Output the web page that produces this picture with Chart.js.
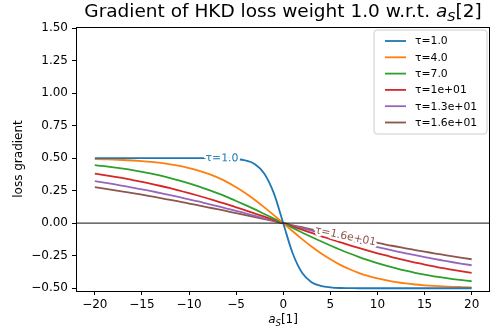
<!DOCTYPE html>
<html>
<head>
<meta charset="utf-8">
<script src="https://cdn.jsdelivr.net/npm/chart.js@4.4.1/dist/chart.umd.min.js"></script>
<style>
  html, body { margin: 0; padding: 0; background: #fff; }
  #wrap { width: 490px; height: 333px; }
</style>
</head>
<body>
<div id="wrap"><canvas id="c" width="490" height="333"></canvas></div>
<script>
// ---- data ----
const xValues = [-20,-19,-18,-17,-16,-15,-14,-13,-12,-11,-10,-9,-8,-7,-6,-5,-4,-3,-2,-1,0,1,2,3,4,5,6,7,8,9,10,11,12,13,14,15,16,17,18,19,20];

const tau1 = [0.500,0.500,0.500,0.500,0.500,0.500,0.500,0.500,0.500,0.500,0.500,0.500,0.500,0.499,0.498,0.493,0.482,0.453,0.381,0.231,0.000,
  -0.231,-0.381,-0.453,-0.482,-0.493,-0.498,-0.499,-0.500,-0.500,-0.500,-0.500,-0.500,-0.500,-0.500,-0.500,-0.500,-0.500,-0.500,-0.500,-0.500];

const tau4 = [0.493,0.491,0.489,0.486,0.482,0.477,0.471,0.463,0.453,0.440,0.424,0.405,0.381,0.352,0.318,0.277,0.231,0.179,0.122,0.062,0.000,
  -0.062,-0.122,-0.179,-0.231,-0.277,-0.318,-0.352,-0.381,-0.405,-0.424,-0.440,-0.453,-0.463,-0.471,-0.477,-0.482,-0.486,-0.489,-0.491,-0.493];

const tau7 = [0.446,0.438,0.429,0.419,0.408,0.395,0.381,0.365,0.347,0.328,0.307,0.283,0.258,0.231,0.202,0.171,0.139,0.106,0.071,0.036,0.000,
  -0.036,-0.071,-0.106,-0.139,-0.171,-0.202,-0.231,-0.258,-0.283,-0.307,-0.328,-0.347,-0.365,-0.381,-0.395,-0.408,-0.419,-0.429,-0.438,-0.446];

const tau10 = [0.381,0.370,0.358,0.346,0.332,0.318,0.302,0.286,0.269,0.250,0.231,0.211,0.190,0.168,0.146,0.122,0.099,0.074,0.050,0.025,0.000,
  -0.025,-0.050,-0.074,-0.099,-0.122,-0.146,-0.168,-0.190,-0.211,-0.231,-0.250,-0.269,-0.286,-0.302,-0.318,-0.332,-0.346,-0.358,-0.370,-0.381];

const tau13 = [0.323,0.312,0.300,0.287,0.274,0.260,0.246,0.231,0.216,0.200,0.183,0.167,0.149,0.132,0.113,0.095,0.076,0.057,0.038,0.019,0.000,
  -0.019,-0.038,-0.057,-0.076,-0.095,-0.113,-0.132,-0.149,-0.167,-0.183,-0.200,-0.216,-0.231,-0.246,-0.260,-0.274,-0.287,-0.300,-0.312,-0.323];

const tau16 = [0.277,0.266,0.255,0.243,0.231,0.219,0.206,0.193,0.179,0.166,0.151,0.137,0.122,0.108,0.093,0.078,0.062,0.047,0.031,0.016,0.000,
  -0.016,-0.031,-0.047,-0.062,-0.078,-0.093,-0.108,-0.122,-0.137,-0.151,-0.166,-0.179,-0.193,-0.206,-0.219,-0.231,-0.243,-0.255,-0.266,-0.277];

const seriesLabels = ['τ=1.0','τ=4.0','τ=7.0','τ=1e+01','τ=1.3e+01','τ=1.6e+01'];
const seriesValues = [tau1, tau4, tau7, tau10, tau13, tau16];
const xTicks = [-20,-15,-10,-5,0,5,10,15,20];
const yTicks = [-0.5,-0.25,0,0.25,0.5,0.75,1.0,1.25,1.5];

// ---- styling ----
const colors = ['#1f77b4','#ff7f0e','#2ca02c','#d62728','#9467bd','#8c564b'];
const FONT = '"DejaVu Sans", sans-serif';

const datasets = seriesValues.map((arr, k) => ({
  label: seriesLabels[k],
  data: xValues.map((x, i) => ({ x: x, y: arr[i] })),
  borderColor: colors[k],
  backgroundColor: colors[k],
  borderWidth: 1.8,
  pointRadius: 0,
  fill: false,
  cubicInterpolationMode: 'monotone'
}));

function interpY(arr, x) {
  for (let i = 0; i < xValues.length - 1; i++) {
    if (x >= xValues[i] && x <= xValues[i + 1]) {
      const t = (x - xValues[i]) / (xValues[i + 1] - xValues[i]);
      return arr[i] + t * (arr[i + 1] - arr[i]);
    }
  }
  return arr[arr.length - 1];
}

const decorPlugin = {
  id: 'decor',
  afterDatasetsDraw(chart) {
    const ctx = chart.ctx, a = chart.chartArea;
    const xs = chart.scales.x, ys = chart.scales.y;
    // zero line
    ctx.save();
    ctx.strokeStyle = 'rgba(0,0,0,0.75)';
    ctx.lineWidth = 1.2;
    const y0 = ys.getPixelForValue(0);
    ctx.beginPath(); ctx.moveTo(a.left, y0); ctx.lineTo(a.right, y0); ctx.stroke();
    ctx.restore();

    // inline labels
    const inl = [ { k: 0, x: -6.5 }, { k: 5, x: 6.6 } ];
    inl.forEach(o => {
      const arr = seriesValues[o.k];
      const px = xs.getPixelForValue(o.x), py = ys.getPixelForValue(interpY(arr, o.x));
      const pa = { x: xs.getPixelForValue(o.x - 0.5), y: ys.getPixelForValue(interpY(arr, o.x - 0.5)) };
      const pb = { x: xs.getPixelForValue(o.x + 0.5), y: ys.getPixelForValue(interpY(arr, o.x + 0.5)) };
      const ang = Math.atan2(pb.y - pa.y, pb.x - pa.x);
      ctx.save();
      ctx.translate(px, py);
      ctx.rotate(ang);
      ctx.font = '10.8px ' + FONT;
      ctx.textAlign = 'center';
      ctx.textBaseline = 'middle';
      ctx.lineJoin = 'round';
      ctx.strokeStyle = '#fff';
      ctx.lineWidth = 5;
      ctx.strokeText(seriesLabels[o.k], 0, 0);
      ctx.fillStyle = colors[o.k];
      ctx.fillText(seriesLabels[o.k], 0, 0);
      ctx.restore();
    });
  },
  afterDraw(chart) {
    const ctx = chart.ctx, a = chart.chartArea;
    ctx.save();
    // frame top & right
    ctx.strokeStyle = '#000';
    ctx.lineWidth = 1;
    ctx.beginPath();
    ctx.moveTo(a.left, a.top + 0.5); ctx.lineTo(a.right, a.top + 0.5);
    ctx.moveTo(a.right - 0.5, a.top); ctx.lineTo(a.right - 0.5, a.bottom);
    ctx.stroke();

    // legend
    const lx = 374, ly = 30, lw = 113, lh = 104, r = 3;
    ctx.beginPath();
    ctx.moveTo(lx + r, ly); ctx.lineTo(lx + lw - r, ly); ctx.quadraticCurveTo(lx + lw, ly, lx + lw, ly + r);
    ctx.lineTo(lx + lw, ly + lh - r); ctx.quadraticCurveTo(lx + lw, ly + lh, lx + lw - r, ly + lh);
    ctx.lineTo(lx + r, ly + lh); ctx.quadraticCurveTo(lx, ly + lh, lx, ly + lh - r);
    ctx.lineTo(lx, ly + r); ctx.quadraticCurveTo(lx, ly, lx + r, ly);
    ctx.closePath();
    ctx.fillStyle = 'rgba(255,255,255,0.8)';
    ctx.fill();
    ctx.strokeStyle = '#cccccc';
    ctx.lineWidth = 1;
    ctx.stroke();
    ctx.font = '10.8px ' + FONT;
    ctx.textBaseline = 'middle';
    ctx.textAlign = 'left';
    chart.data.datasets.forEach((ds, i) => {
      const ry = 41 + i * 16.3;
      ctx.strokeStyle = ds.borderColor;
      ctx.lineWidth = 1.8;
      ctx.beginPath(); ctx.moveTo(385, ry); ctx.lineTo(406, ry); ctx.stroke();
      ctx.fillStyle = '#000';
      ctx.fillText(ds.label, 415, ry + 0.5);
    });

    // title with math a_S
    const cx = (a.left + a.right) / 2;
    function mathText(parts, centerX, baseY) {
      let total = 0;
      parts.forEach(p => { ctx.font = p.f; total += ctx.measureText(p.t).width; });
      let x = centerX - total / 2;
      ctx.textAlign = 'left';
      ctx.textBaseline = 'alphabetic';
      ctx.fillStyle = '#000';
      parts.forEach(p => { ctx.font = p.f; ctx.fillText(p.t, x, baseY + (p.dy || 0)); x += ctx.measureText(p.t).width; });
    }
    mathText([
      { t: 'Gradient of HKD loss weight 1.0 w.r.t. ', f: '18.5px ' + FONT },
      { t: 'a', f: 'italic 18.5px ' + FONT },
      { t: 'S', f: 'italic 13px ' + FONT, dy: 3.5 },
      { t: '[2]', f: '18.5px ' + FONT }
    ], cx, 17);

    // x label
    mathText([
      { t: 'a', f: 'italic 12px ' + FONT },
      { t: 'S', f: 'italic 8.5px ' + FONT, dy: 2.5 },
      { t: '[1]', f: '12px ' + FONT }
    ], cx, 323);

    // y label
    ctx.save();
    ctx.translate(19, (a.top + a.bottom) / 2);
    ctx.rotate(-Math.PI / 2);
    ctx.font = '12px ' + FONT;
    ctx.textAlign = 'center';
    ctx.textBaseline = 'middle';
    ctx.fillText('loss gradient', 0, 0);
    ctx.restore();
    ctx.restore();
  }
};

new Chart(document.getElementById('c'), {
  type: 'line',
  data: { datasets: datasets },
  options: {
    responsive: false,
    animation: false,
    devicePixelRatio: 1,
    layout: { padding: { top: 27, left: 0, right: 0, bottom: 0 } },
    plugins: { legend: { display: false }, title: { display: false }, tooltip: { enabled: false } },
    scales: {
      x: {
        type: 'linear', min: -22, max: 21.95,
        afterBuildTicks: s => { s.ticks = xTicks.map(v => ({ value: v })); },
        afterFit: s => { s.height = 42; },
        ticks: { color: '#000', font: { family: FONT, size: 12 }, padding: 3, maxRotation: 0, autoSkip: false,
                 callback: v => String(v).replace('-', '\u2212') },
        grid: { drawOnChartArea: false, drawTicks: true, tickLength: 4, color: '#000', tickColor: '#000' },
        border: { display: true, color: '#000', width: 1 }
      },
      y: {
        type: 'linear', min: -0.521, max: 1.508,
        afterBuildTicks: s => { s.ticks = yTicks.map(v => ({ value: v })); },
        afterFit: s => { s.width = 76; },
        ticks: { color: '#000', font: { family: FONT, size: 12 }, padding: 4, autoSkip: false,
                 callback: v => Number(v).toFixed(2).replace('-', '\u2212') },
        grid: { drawOnChartArea: false, drawTicks: true, tickLength: 4, color: '#000', tickColor: '#000' },
        border: { display: true, color: '#000', width: 1 }
      }
    }
  },
  plugins: [decorPlugin]
});
</script>
</body>
</html>
